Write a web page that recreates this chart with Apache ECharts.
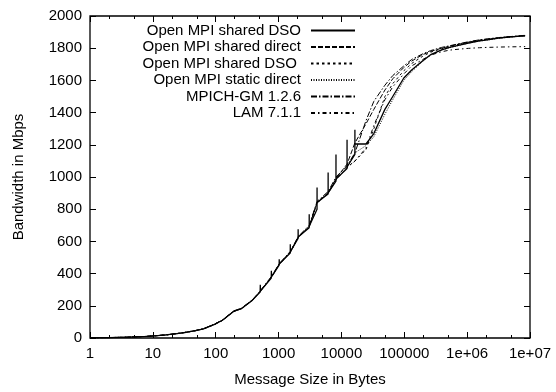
<!DOCTYPE html>
<html>
<head>
<meta charset="utf-8">
<script src="https://cdn.jsdelivr.net/npm/echarts@6/dist/echarts.min.js"></script>
<style>
html,body{margin:0;padding:0;background:#fff;}
#chart{width:556px;height:392px;}
</style>
</head>
<body>
<div id="chart"></div>
<script>
// ---- data ----
var seriesNames = ['Open MPI shared DSO', 'Open MPI shared direct', 'Open MPI shared DSO', 'Open MPI static direct', 'MPICH-GM 1.2.6', 'LAM 7.1.1'];

// series 1 (solid) has its own sizes including the +-3 byte perturbations
var sizesS1 = [1,2,3,4,6,8,12,16,24,32,48,64,96,128,192,256,384,
  509,512,515, 765,768,771, 1021,1024,1027, 1533,1536,1539, 2045,2048,2051,
  3069,3072,3075, 4093,4096,4099, 6141,6144,6147, 8189,8192,8195,
  12285,12288,12291, 16381,16384,16387,
  24576,32768,49152,65536,98304,131072,196608,262144,393216,524288,786432,
  1048576,1572864,2097152,3145728,4194304,6291456,8388608];
var valuesS1 = [1,2.5,4,5,8,10,15,19,27,34,46,57,85,110,165,182,235,
  285,330,292, 372,417,380, 452,489,460, 528,582,536, 618,675,628,
  685,768,694, 800,935,842, 895,1028,902, 975,1139,988,
  1052,1232,1062, 1140,1294,1205,
  1205,1270,1420,1500,1615,1665,1722,1760,1790,1805,1820,
  1832,1845,1852,1862,1868,1874,1878];

// common sizes for the other series
var sizes = [1,2,3,4,6,8,12,16,24,32,48,64,96,128,192,256,384,512,768,1024,1536,2048,3072,4096,6144,8192,12288,
  16384,24576,32768,49152,65536,98304,131072,196608,262144,393216,524288,786432,1048576,1572864,2097152,3145728,4194304,6291456,8388608];
var valuesS2 = [1,2.5,4,5,8,10,15,19,27,34,46,57,86,110,166,183,236,291,378,459,534,626,692,842,903,990,1080,
  1212,1330,1420,1540,1610,1680,1720,1760,1780,1800,1812,1828,1838,1850,1856,1864,1869,1874,1877];
var valuesS3 = [1,2.5,4,5,8,10,15,19,27,34,46,57,84,109,164,181,234,289,376,457,532,624,690,838,898,982,1060,
  1100,1170,1300,1500,1580,1660,1705,1750,1775,1797,1810,1826,1836,1848,1855,1863,1868,1874,1877];
var valuesS4 = [1,2.5,4,5,8,10,15,19,27,34,46,57,85,110,165,182,235,290,378,458,533,625,694,840,900,985,1059,
  1150,1195,1250,1390,1480,1600,1655,1718,1757,1788,1803,1820,1831,1844,1851,1861,1867,1873,1877];
var valuesS5 = [1,2.5,4,5,8,10,15,19,28,35,47,58,87,112,168,185,238,293,382,462,538,630,700,848,910,1000,1070,
  1150,1350,1470,1570,1630,1690,1730,1765,1785,1805,1815,1830,1840,1852,1858,1866,1870,1876,1880];
var valuesS6 = [1,2.5,4,5,8,10,15,19,27,34,46,57,85,110,165,182,235,290,378,458,533,625,694,840,900,985,1059,
  1098,1180,1320,1480,1560,1640,1690,1730,1757,1778,1788,1795,1799,1803,1805,1807,1808,1809,1810];

var yTicks = [0,200,400,600,800,1000,1200,1400,1600,1800,2000];
var yLabels = ['0','200','400','600','800','1000','1200','1400','1600','1800','2000'];
var xMajorTicks = [1,10,100,1000,10000,100000,1000000,10000000];
var xMajorLabels = ['1','10','100','1000','10000','100000','1e+06','1e+07'];
var xMinorTicks = [2,5,20,50,200,500,2000,5000,20000,50000,200000,500000,2000000,5000000];

// ---- chart ----
function pairs(xs, ys){ var out=[]; for (var i=0;i<xs.length;i++) out.push([xs[i], ys[i]]); return out; }
function findIdx(arr, v){ for (var j=0;j<arr.length;j++){ if (Math.abs(arr[j]-v) <= Math.abs(v)*1e-6 + 1e-9) return j; } return -1; }
var FONT = 'Liberation Sans';
var FS = 15;
var dashStyles = [
  {type:'solid', width:1.3},
  {type:[5,2], width:1},
  {type:[2.5,3], width:1},
  {type:[1,1.5], width:1},
  {type:[6,2,1.5,2], width:1},
  {type:[4,3,1.5,3], width:1}
];
var allData = [pairs(sizesS1, valuesS1), pairs(sizes, valuesS2), pairs(sizes, valuesS3), pairs(sizes, valuesS4), pairs(sizes, valuesS5), pairs(sizes, valuesS6)];

var series = [];
for (var i=0;i<6;i++){
  series.push({
    name: seriesNames[i] + (i===2 ? ' ' : ''),
    type: 'line',
    data: allData[i],
    symbol: 'none',
    showSymbol: false,
    animation: false,
    xAxisIndex: 0, yAxisIndex: 0,
    lineStyle: {color:'#000', width: dashStyles[i].width, type: dashStyles[i].type},
    itemStyle: {color:'#000'},
    z: 10 - i
  });
}

function xAxisBase(pos){
  return {type:'log', logBase:10, min:1, max:10000000, position:pos, gridIndex:0,
    axisLine:{show:false}, splitLine:{show:false}, minorTick:{show:false}};
}
var xMajorBottom = xAxisBase('bottom');
xMajorBottom.axisTick = {show:true, inside:true, length:6, lineStyle:{color:'#000', width:1}, customValues: xMajorTicks};
xMajorBottom.axisLabel = {show:true, customValues: xMajorTicks, margin:8, color:'#000', fontFamily:FONT, fontSize:FS,
  formatter: function(v){ var k = findIdx(xMajorTicks, v); return k>=0 ? xMajorLabels[k] : ''; }};
xMajorBottom.name = 'Message Size in Bytes';
xMajorBottom.nameLocation = 'middle';
xMajorBottom.nameGap = 34;
xMajorBottom.nameTextStyle = {color:'#000', fontFamily:FONT, fontSize:FS};

var xMinorBottom = xAxisBase('bottom');
xMinorBottom.axisTick = {show:true, inside:true, length:3, lineStyle:{color:'#000', width:1}, customValues: xMinorTicks};
xMinorBottom.axisLabel = {show:false};

var xMajorTop = xAxisBase('top');
xMajorTop.axisTick = {show:true, inside:true, length:6, lineStyle:{color:'#000', width:1}, customValues: xMajorTicks};
xMajorTop.axisLabel = {show:false};

var xMinorTop = xAxisBase('top');
xMinorTop.axisTick = {show:true, inside:true, length:3, lineStyle:{color:'#000', width:1}, customValues: xMinorTicks};
xMinorTop.axisLabel = {show:false};

var option = {
  animation: false,
  backgroundColor: '#fff',
  textStyle: {fontFamily: FONT},
  grid: {left:90, right:26, top:16, bottom:53, show:true, borderColor:'#000', borderWidth:1.3, backgroundColor:'transparent', containLabel:false},
  legend: {
    orient:'vertical', align:'right', right:200, top:23, itemWidth:44, itemHeight:14, itemGap:1.5, padding:0,
    itemStyle:{color:'rgba(0,0,0,0)', borderWidth:0, borderColor:'rgba(0,0,0,0)'},
    textStyle:{color:'#000', fontFamily:FONT, fontSize:FS, padding:[0,5,0,0]},
    data: series.map(function(s){ return {name:s.name}; }),
    selectedMode:false
  },
  xAxis: [xMajorBottom, xMinorBottom, xMajorTop, xMinorTop],
  yAxis: [
    {type:'value', min:0, max:2000, interval:200, position:'left', axisLine:{show:false}, splitLine:{show:false},
     axisTick:{show:true, inside:true, length:6, lineStyle:{color:'#000'}},
     axisLabel:{color:'#000', fontFamily:FONT, fontSize:FS, margin:8,
       formatter: function(v){ var k = findIdx(yTicks, v); return k>=0 ? yLabels[k] : String(v); }},
     name:'Bandwidth in Mbps', nameLocation:'middle', nameGap:64, nameRotate:90,
     nameTextStyle:{color:'#000', fontFamily:FONT, fontSize:FS}},
    {type:'value', min:0, max:2000, interval:200, position:'right', axisLine:{show:false}, splitLine:{show:false},
     axisTick:{show:true, inside:true, length:6, lineStyle:{color:'#000'}}, axisLabel:{show:false}}
  ],
  series: series
};
var chart = echarts.init(document.getElementById('chart'), null, {renderer:'canvas'});
chart.setOption(option);
</script>
</body>
</html>
